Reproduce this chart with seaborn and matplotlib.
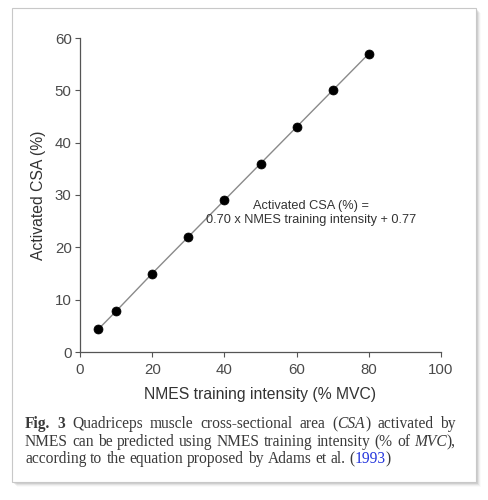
import matplotlib
matplotlib.use("Agg")
import matplotlib.pyplot as plt
import seaborn as sns
from matplotlib.patches import Rectangle

# data
intensity = [5, 10, 20, 30, 40, 50, 60, 70, 80]
activated_csa = [4.3, 7.8, 15.0, 22.0, 29.0, 36.0, 43.0, 50.0, 57.0]
x_ticks = [0, 20, 40, 60, 80, 100]
y_ticks = [0, 10, 20, 30, 40, 50, 60]

sns.set_theme(style="ticks")
plt.rcParams["font.family"] = ["Liberation Sans", "DejaVu Sans"]

W, H = 488, 500
fig = plt.figure(figsize=(W / 100, H / 100), dpi=100)
fig.patch.set_facecolor("white")

# page frame with a soft shadow
fx0, fy0, fx1, fy1 = 12, 8, 476, 482
for i, a in enumerate([0.10, 0.08, 0.06, 0.04, 0.02]):
    off = i + 1
    fig.add_artist(Rectangle(((fx0 + off) / W, 1 - (fy1 + off) / H),
                             (fx1 - fx0) / W, (fy1 - fy0) / H,
                             transform=fig.transFigure, facecolor="black",
                             edgecolor="none", alpha=a, zorder=-3))
fig.add_artist(Rectangle((fx0 / W, 1 - fy1 / H), (fx1 - fx0) / W, (fy1 - fy0) / H,
                         transform=fig.transFigure, facecolor="white",
                         edgecolor="#c8c8c8", lw=0.8, zorder=-2))

ax = fig.add_axes([80 / W, 1 - 352 / H, (441 - 80) / W, (352 - 38) / H])
ax.set_facecolor("none")

sns.lineplot(x=intensity, y=activated_csa, ax=ax, color="#8a8a8a", lw=1.0)
sns.scatterplot(x=intensity, y=activated_csa, ax=ax, color="black", s=42,
                edgecolor="black", linewidth=0.5, zorder=3)

ax.set_xlim(0, 100)
ax.set_ylim(0, 60)
ax.set_xticks(x_ticks)
ax.set_yticks(y_ticks)
ax.tick_params(direction="out", length=3.5, width=0.8, colors="#555555",
               labelcolor="#4a4a4a", labelsize=10.8)
ax.tick_params(axis="y", pad=2.5)
ax.tick_params(axis="x", pad=4.5)
sns.despine(ax=ax)
for s in ["left", "bottom"]:
    ax.spines[s].set_color("#555555")
    ax.spines[s].set_linewidth(0.9)

ax.set_xlabel("NMES training intensity (% MVC)", fontsize=11.3, color="#333333", labelpad=7)
ax.set_ylabel("Activated CSA (%)", fontsize=11.3, color="#333333", labelpad=6)

ax.text(64, 26.5, "Activated CSA (%) =\n0.70 x NMES training intensity + 0.77",
        ha="center", va="center", fontsize=9.2, color="#333333", linespacing=1.25)

# caption, justified like the journal page
cap_font = ["Liberation Serif", "DejaVu Serif"]
cap_color = "#3a3a3a"
cap_size = 11.2

lines = [
    [[("Fig.", "b")], [("3", "b")], [("Quadriceps", "")], [("muscle", "")],
     [("cross-sectional", "")], [("area", "")], [("(", ""), ("CSA", "i"), (")", "")],
     [("activated", "")], [("by", "")]],
    [[("NMES", "")], [("can", "")], [("be", "")], [("predicted", "")], [("using", "")],
     [("NMES", "")], [("training", "")], [("intensity", "")], [("(%", "")], [("of", "")],
     [("MVC", "i"), ("),", "")]],
    [[("according", "")], [("to", "")], [("the", "")], [("equation", "")],
     [("proposed", "")], [("by", "")], [("Adams", "")], [("et", "")], [("al.", "")],
     [("(", ""), ("1993", "blue"), (")", "")]],
]
line_y = [428, 446, 463]
justify = [True, True, False]
cx0, cx1 = 25 / W, 456 / W

fig.canvas.draw()
renderer = fig.canvas.get_renderer()
for words, yp, just in zip(lines, line_y, justify):
    placed = []
    for word in words:
        segs = []
        for txt, st in word:
            t = fig.text(0, 1 - yp / H, txt, fontsize=cap_size, family=cap_font,
                         weight="bold" if st == "b" else "normal",
                         style="italic" if st == "i" else "normal",
                         color="#2233dd" if st == "blue" else cap_color,
                         va="baseline", ha="left")
            w = t.get_window_extent(renderer).width / fig.bbox.width
            segs.append((t, w))
        placed.append(segs)
    widths = [sum(w for _, w in segs) for segs in placed]
    if just:
        gap = (cx1 - cx0 - sum(widths)) / (len(placed) - 1)
    else:
        gap = 3.9 / W
    x = cx0
    for segs, wsum in zip(placed, widths):
        xx = x
        for t, w in segs:
            t.set_x(xx)
            xx += w
        x += wsum + gap

fig.savefig("out.png", dpi=100, facecolor="white")
